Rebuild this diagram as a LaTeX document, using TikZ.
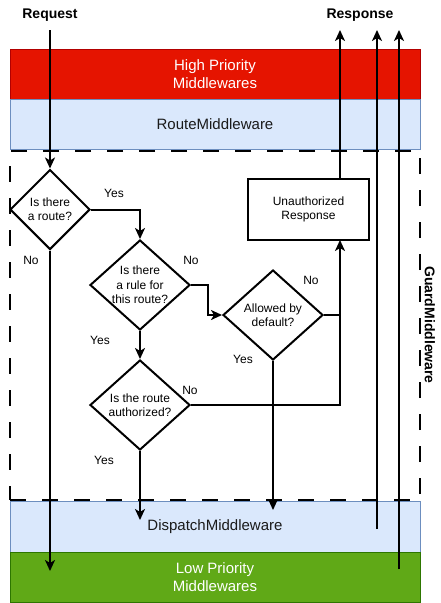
\documentclass[tikz,border=0pt]{standalone}
\usepackage{fontspec}
\setmainfont{Liberation Sans}
\usetikzlibrary{shapes.geometric,arrows.meta}
\definecolor{hpred}{HTML}{E51400}
\definecolor{hpredline}{HTML}{B20000}
\definecolor{mwblue}{HTML}{DAE8FC}
\definecolor{mwblueline}{HTML}{6C8EBF}
\definecolor{lpgreen}{HTML}{60A917}
\definecolor{lpgreenline}{HTML}{2D7600}
\definecolor{darktext}{HTML}{1A1A1A}
\tikzset{
  band/.style={rectangle, minimum width=410pt, inner sep=0pt, line width=1pt, align=center,
    font=\fontsize{15}{18}\selectfont},
  guardbox/.style={rectangle, draw=black, line width=2pt, dash pattern=on 16pt off 16pt,
    minimum width=410pt, minimum height=349pt, inner sep=0pt},
  dia/.style={diamond, draw=black, line width=2pt, inner sep=0pt},
  dtext/.style={align=center, inner sep=0pt, font=\fontsize{12}{14.4}\selectfont},
  lbl/.style={inner sep=0pt, font=\fontsize{12}{14.4}\selectfont},
  title/.style={inner sep=0pt, font=\fontsize{14}{16.8}\selectfont\bfseries},
  boxnode/.style={rectangle, draw=black, line width=2pt, minimum width=121pt, minimum height=61pt,
    align=center, inner sep=0pt, font=\fontsize{12}{14.4}\selectfont},
  conn/.style={draw=black, line width=2pt},
  arr/.style={conn, -{Stealth[length=11pt, width=10pt, inset=3pt]}},
}
\begin{document}
\begin{tikzpicture}[x=1pt, y=-1pt]
\useasboundingbox (0,0) rectangle (440,603);
% bands
\node[band, fill=hpred, draw=hpredline, text=white, minimum height=50pt] (hp) at (215,74) {High Priority\\Middlewares};
\node[band, fill=mwblue, draw=mwblueline, text=darktext, minimum height=50pt] (rm) at (215,124) {RouteMiddleware};
\node[band, fill=mwblue, draw=mwblueline, text=darktext, minimum height=51pt] (dm) at (215,526.5) {DispatchMiddleware};
\node[band, fill=lpgreen, draw=lpgreenline, text=white, minimum height=50pt] (lp) at (215,577) {Low Priority\\Middlewares};
% guard container
\node[guardbox] (guard) at (215,325.5) {};
\node[title, rotate=-90] (guardlbl) at (430,325) {GuardMiddleware};
% titles
\node[title] (reqlbl) at (50,15) {Request};
\node[title] (resplbl) at (360,15) {Response};
% diamonds
\node[dia, minimum width=80pt, minimum height=80pt] (d1) at (50,209.5) {};
\node[dtext] (d1t) at (d1) {Is there\\a route?};
\node[dia, minimum width=100pt, minimum height=90pt] (d2) at (140,285) {};
\node[dtext] (d2t) at (d2) {Is there\\a rule for\\this route?};
\node[dia, minimum width=100pt, minimum height=90pt] (d3) at (273,315) {};
\node[dtext] (d3t) at (d3) {Allowed by\\default?};
\node[dia, minimum width=100pt, minimum height=90pt] (d4) at (140,405) {};
\node[dtext] (d4t) at (d4) {Is the route\\authorized?};
\node[boxnode] (ur) at (308.5,209.5) {Unauthorized\\Response};
% coordinates
\coordinate (reqtop) at (50,30);
\coordinate (reqend) at (50,571);
\coordinate (urin) at (340,240);
\coordinate (urout) at (340,179);
\coordinate (join) at (340,315);
\coordinate (resp1) at (340,30);
\coordinate (resp2) at (377,30);
\coordinate (resp3) at (399,30);
\coordinate (dmout) at (377,529);
\coordinate (lpout) at (399,569);
\coordinate (d3end) at (273,510);
\coordinate (d4end) at (140,520);
% connectors
\draw[arr] (reqtop) -- (d1.north);
\draw[arr] (d1.south) -- (reqend);
\draw[arr] (d1.east) -| (d2.north);
\draw[arr] (d2.east) -- ++(17,0) |- (d3.west);
\draw[arr] (d2.south) -- (d4.north);
\draw[arr] (d3.east) -| (urin);
\draw[conn] (d4.east) -| (join);
\draw[arr] (d3.south) -- (d3end);
\draw[arr] (d4.south) -- (d4end);
\draw[arr] (urout) -- (resp1);
\draw[arr] (dmout) -- (resp2);
\draw[arr] (lpout) -- (resp3);
% labels
\node[lbl] (yes1) at (114,193) {Yes};
\node[lbl] (no1) at (31,260) {No};
\node[lbl] (no2) at (191,260) {No};
\node[lbl] (yes2) at (100,340) {Yes};
\node[lbl] (no3) at (311,280) {No};
\node[lbl] (yes3) at (243,359) {Yes};
\node[lbl] (no4) at (190,390) {No};
\node[lbl] (yes4) at (104,460) {Yes};
\end{tikzpicture}
\end{document}
